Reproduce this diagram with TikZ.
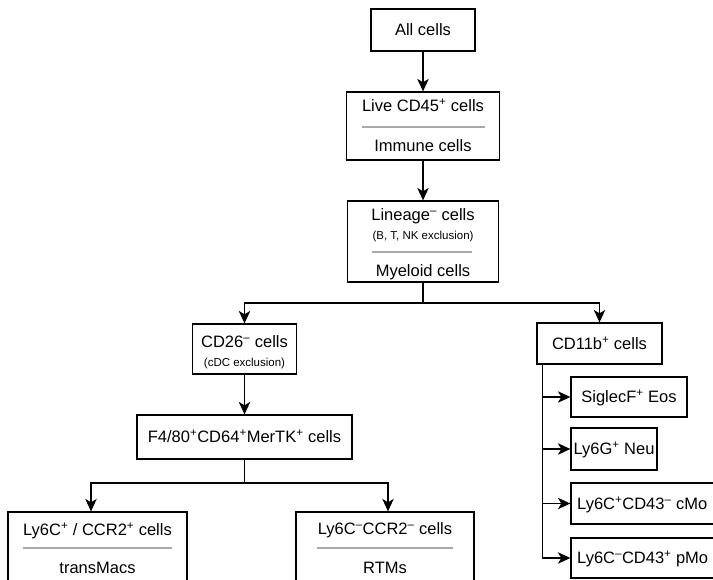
\documentclass[tikz,border=0pt]{standalone}
\usepackage{fontspec}
\setmainfont{Liberation Sans}
\usetikzlibrary{arrows.meta,calc}
\definecolor{sepgray}{HTML}{A8A8A8}
\newcommand{\sPlus}{\textsuperscript{+}}
\newcommand{\sMinus}{\textsuperscript{–}}
\tikzset{
  box/.style={draw, line width=1.3pt, inner sep=0pt},
  lbl/.style={inner sep=0pt, font=\fontsize{16.5}{19}\selectfont, text height=11.8pt, text depth=0pt},
  note/.style={inner sep=0pt, font=\fontsize{11.5}{13}\selectfont, text height=8.2pt, text depth=0pt},
  sepline/.style={draw=sepgray, line width=2pt},
  link/.style={line width=1.3pt},
  arr/.style={link, -{Stealth[length=12.5pt,width=11.5pt,inset=3.5pt]}},
}
\begin{document}
\begin{tikzpicture}[x=1pt,y=-1pt]
\useasboundingbox (0,0) rectangle (713,579);
\clip (0,0) rectangle (713,579);
\fill[white] (0,0) rectangle (713,579);

% top column
\node[box,lbl,minimum width=104pt,minimum height=42pt] (all) at (423,30) {All cells};

\node[box,minimum width=153pt,minimum height=68pt] (live) at (423,126) {};
\node[lbl] (liveA) at (423,106) {Live CD45\sPlus{} cells};
\draw[sepline] (362,127) -- (485,127);
\node[lbl] (liveB) at (423,146) {Immune cells};

\node[box,minimum width=151pt,minimum height=81pt] (lin) at (423,241.5) {};
\node[lbl] (linA) at (423,215) {Lineage\sMinus{} cells};
\node[note] (linN) at (423,235) {(B, T, NK exclusion)};
\draw[sepline] (372,252) -- (472,252);
\node[lbl] (linB) at (423,271) {Myeloid cells};

% left branch
\node[box,minimum width=104pt,minimum height=50pt] (cd26) at (244.5,349) {};
\node[lbl] (cd26A) at (244.5,342) {CD26\sMinus{} cells};
\node[note] (cd26N) at (244.5,362) {(cDC exclusion)};

\node[box,lbl,minimum width=215pt,minimum height=44pt] (f480) at (244.5,437) {F4/80\sPlus CD64\sPlus MerTK\sPlus{} cells};

\node[box,minimum width=179pt,minimum height=88pt] (ly6cp) at (97.5,556) {};
\node[lbl] (ly6cpA) at (97.5,530) {Ly6C\sPlus{} / CCR2\sPlus{} cells};
\draw[sepline] (23,548) -- (172,548);
\node[lbl] (ly6cpB) at (97.5,568) {transMacs};

\node[box,minimum width=178pt,minimum height=88pt] (ly6cm) at (385,556) {};
\node[lbl] (ly6cmA) at (385,529) {Ly6C\sMinus CCR2\sMinus{} cells};
\draw[sepline] (317,548) -- (453,548);
\node[lbl] (ly6cmB) at (385,568) {RTMs};

% right branch
\node[box,lbl,minimum width=125pt,minimum height=41pt] (cd11b) at (599.5,343.5) {CD11b\sPlus{} cells};
\node[box,lbl,minimum width=116pt,minimum height=40pt] (eos) at (629,397) {SiglecF\sPlus{} Eos};
\node[box,lbl,minimum width=86pt,minimum height=42pt] (neu) at (614,449) {Ly6G\sPlus{} Neu};
\node[box,minimum width=159pt,minimum height=41pt] (cmo) at (650.5,503.5) {};
\node[lbl,anchor=west] (cmoT) at (577,503.5) {Ly6C\sPlus CD43\sMinus{} cMo};
\node[box,minimum width=159pt,minimum height=40pt] (pmo) at (650.5,558) {};
\node[lbl,anchor=west] (pmoT) at (577,558) {Ly6C\sMinus CD43\sPlus{} pMo};

% connectors
\draw[arr] (all) -- (live);
\draw[arr] (live) -- (lin);
\coordinate (j1) at (423,303);
\draw[link] (lin.south) -- (j1);
\draw[arr] (j1) -| (cd26.north);
\draw[arr] (j1) -| (cd11b.north);
\draw[arr] (cd26) -- (f480);
\coordinate (j2) at (244.5,483);
\draw[link] (f480.south) -- (j2);
\draw[arr] (j2) -| ([xshift=-6.5pt]ly6cp.north);
\draw[arr] (j2) -| ([xshift=3pt]ly6cm.north);
\coordinate (v0) at ([xshift=6pt]cd11b.south west);
\draw[arr] (v0) |- (eos.west);
\draw[arr] (v0) |- (neu.west);
\draw[arr] (v0) |- (cmo.west);
\draw[arr] (v0) |- (pmo.west);
\end{tikzpicture}
\end{document}
